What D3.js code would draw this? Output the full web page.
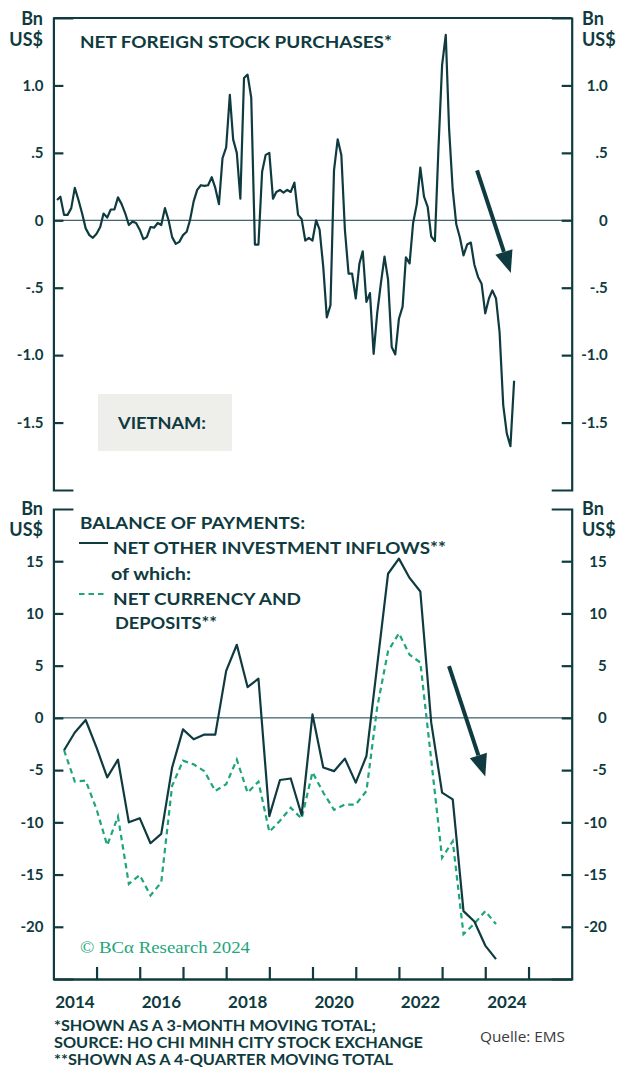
<!DOCTYPE html>
<html>
<head>
<meta charset="utf-8">
<script src="https://cdn.jsdelivr.net/npm/d3@7"></script>
<style>
  body { margin: 0; background: #fff; }
  svg { display: block; }
  text { font-family: Lato, "Open Sans", sans-serif; font-weight: 700; fill: #0f3b40; }
</style>
</head>
<body>
<svg id="chart" width="618" height="1070"></svg>
<script>
// net foreign stock purchases, bn US$, 3-month moving total, monthly from Feb 2014
var stockValues = [
  0.15, 0.175, 0.04, 0.04, 0.09, 0.24, 0.15, 0.05, -0.06, -0.11, -0.13, -0.10,
  -0.05, 0.05, 0.02, 0.08, 0.08, 0.17, 0.12, 0.05, -0.035, -0.01, -0.02, -0.07,
  -0.14, -0.125, -0.05, -0.055, -0.02, -0.035, 0.09, 0.0, -0.125, -0.175, -0.16, -0.11,
  -0.085, 0.0, 0.14, 0.225, 0.26, 0.255, 0.26, 0.32, 0.24, 0.12, 0.46, 0.54,
  0.93, 0.60, 0.50, 0.16, 1.055, 1.08, 0.91, -0.18, -0.18, 0.36, 0.485, 0.50,
  0.16, 0.21, 0.225, 0.205, 0.225, 0.21, 0.28, 0.04, 0.01, -0.15, -0.13, -0.15,
  0.0, -0.07, -0.345, -0.72, -0.63, 0.37, 0.60, 0.485, -0.07, -0.395, -0.395, -0.58,
  -0.32, -0.23, -0.605, -0.54, -0.99, -0.69, -0.47, -0.27, -0.44, -0.94, -0.995, -0.73,
  -0.64, -0.275, -0.32, -0.02, 0.12, 0.39, 0.175, 0.10, -0.12, -0.155, 0.53, 1.15,
  1.375, 0.68, 0.225, -0.03, -0.13, -0.26, -0.18, -0.165, -0.33, -0.42, -0.47, -0.69,
  -0.58, -0.52, -0.58, -0.83, -1.37, -1.58, -1.675, -1.19
];
var stockStart = new Date(2014, 1, 1);

// balance of payments, bn US$, 4-quarter moving total, quarterly from Q1 2014
var otherInvestment = [
  -3.1, -1.4, -0.2, -2.85, -5.7, -4.0, -10.0, -9.6, -12.0, -11.1,
  -4.75, -1.1, -2.05, -1.6, -1.6, 4.5, 7.0, 2.95, 3.75, -9.4,
  -5.95, -5.8, -9.3, 0.33, -4.75, -5.1, -3.9, -6.2, -3.65, 5.0,
  13.8, 15.25, 13.4, 12.1, -0.46, -7.15, -7.8, -18.5, -19.5, -21.8,
  -23.1
];
var currencyDeposits = [
  -3.1, -6.1, -6.0, -8.75, -12.2, -9.45, -15.9, -15.05, -17.0, -15.75,
  -6.5, -4.1, -4.45, -5.1, -7.0, -6.35, -4.0, -7.15, -6.1, -10.9,
  -9.85, -8.6, -9.65, -5.2, -7.15, -8.8, -8.3, -8.3, -7.0, 1.0,
  6.4, 8.1, 6.05, 5.3, -4.0, -13.4, -11.8, -20.7, -19.7, -18.5,
  -19.75
];
var bopStart = new Date(2014, 3, 1);

var stockTicks = [-1.5, -1.0, -0.5, 0, 0.5, 1.0];
var bopTicks = [-20, -15, -10, -5, 0, 5, 10, 15];
var yearLabels = [2014, 2016, 2018, 2020, 2022, 2024];

// arrow annotations as [year fraction, value]
var stockArrow = [[2023.81, 0.37], [2024.59, -0.39]];
var bopArrow = [[2023.16, 4.95], [2024.0, -5.6]];

var ink = "#0f3b40", green = "#1ea57c";
var left = 53.4, right = 571.7;
var topPanel = {top: 18, bottom: 490}, botPanel = {top: 509, bottom: 979};

var svg = d3.select("#chart");

var stockData = stockValues.map(function(v, i) {
  return {date: d3.timeMonth.offset(stockStart, i), value: v};
});
var bopData = otherInvestment.map(function(v, i) {
  return {date: d3.timeMonth.offset(bopStart, i * 3), other: v, currency: currencyDeposits[i]};
});

// set the ranges
var x = d3.scaleTime()
  .domain([new Date(2014, 0, 1), new Date(2026, 0, 1)])
  .range([left, right]);
var yTop = d3.scaleLinear().domain([-2, 1.5]).range([topPanel.bottom, topPanel.top]);
var yBot = d3.scaleLinear().domain([-25, 20]).range([botPanel.bottom, botPanel.top]);
var yearX = function(t) {
  var y0 = Math.floor(t);
  return x(new Date(y0, 0, 1)) + (t - y0) * (x(new Date(y0 + 1, 0, 1)) - x(new Date(y0, 0, 1)));
};

// plain hyphen minus, no leading zero: 1.0 .5 0 -.5 -1.0
var fmtStock = function(v) {
  if (v === 0) return "0";
  var s = Math.abs(v) < 1 ? String(Math.abs(v)).replace("0.", ".") : Math.abs(v).toFixed(1);
  return (v < 0 ? "-" : "") + s;
};
var fmtBop = function(v) { return (v < 0 ? "-" : "") + Math.abs(v); };

function styleAxis(g) {
  g.select(".domain").attr("stroke", ink).attr("stroke-width", 2.2);
  g.selectAll(".tick line").attr("stroke", ink).attr("stroke-width", 2.2);
  g.selectAll(".tick text")
    .attr("fill", ink)
    .style("font-family", "Lato, sans-serif")
    .style("font-weight", 700)
    .style("font-size", "15px");
}

// ---- top panel ----
svg.append("line")
  .attr("x1", left).attr("x2", right)
  .attr("y1", topPanel.top).attr("y2", topPanel.top)
  .attr("stroke", ink).attr("stroke-width", 2);

svg.append("line")
  .attr("x1", left).attr("x2", right)
  .attr("y1", yTop(0)).attr("y2", yTop(0))
  .attr("stroke", ink).attr("stroke-width", 1);

var gTopL = svg.append("g")
  .attr("transform", "translate(" + left + ",0)")
  .call(d3.axisLeft(yTop).tickValues(stockTicks).tickFormat(fmtStock)
    .tickSize(-10).tickSizeOuter(-20).tickPadding(10));
styleAxis(gTopL);

var gTopR = svg.append("g")
  .attr("transform", "translate(" + right + ",0)")
  .call(d3.axisRight(yTop).tickValues(stockTicks).tickFormat(fmtStock)
    .tickSize(-10).tickSizeOuter(-20));
styleAxis(gTopR);
gTopR.selectAll(".tick text").attr("x", 36).attr("text-anchor", "end");

svg.append("path")
  .datum(stockData)
  .attr("fill", "none")
  .attr("stroke", ink)
  .attr("stroke-width", 2.2)
  .attr("stroke-linejoin", "round")
  .attr("d", d3.line()
    .x(function(d) { return x(d.date); })
    .y(function(d) { return yTop(d.value); }));

// ---- bottom panel ----
svg.append("line")
  .attr("x1", left).attr("x2", right)
  .attr("y1", yBot(0)).attr("y2", yBot(0))
  .attr("stroke", ink).attr("stroke-width", 1);

var gBotL = svg.append("g")
  .attr("transform", "translate(" + left + ",0)")
  .call(d3.axisLeft(yBot).tickValues(bopTicks).tickFormat(fmtBop)
    .tickSize(-10).tickSizeOuter(-20).tickPadding(10));
styleAxis(gBotL);

var gBotR = svg.append("g")
  .attr("transform", "translate(" + right + ",0)")
  .call(d3.axisRight(yBot).tickValues(bopTicks).tickFormat(fmtBop)
    .tickSize(-10).tickSizeOuter(-20));
styleAxis(gBotR);
gBotR.selectAll(".tick text").attr("x", 35).attr("text-anchor", "end");

// year ticks point up from the bottom axis
var gX = svg.append("g")
  .attr("transform", "translate(0," + botPanel.bottom + ")")
  .call(d3.axisBottom(x).ticks(d3.timeYear.every(1)).tickFormat("")
    .tickSize(-12).tickSizeOuter(0));
styleAxis(gX);
gX.select(".domain").attr("stroke-width", 2.6);
gX.selectAll(".tick").filter(function(d) { return d.getFullYear() === 2014 || d.getFullYear() === 2026; }).remove();

svg.append("g").selectAll("text")
  .data(yearLabels)
  .enter().append("text")
  .attr("x", function(d) { return yearX(d + 0.5); })
  .attr("y", 1008)
  .attr("text-anchor", "middle")
  .style("font-size", "17px")
  .text(function(d) { return d; });

svg.append("path")
  .datum(bopData)
  .attr("fill", "none")
  .attr("stroke", green)
  .attr("stroke-width", 2.2)
  .attr("stroke-dasharray", "5.5,4")
  .attr("d", d3.line()
    .x(function(d) { return x(d.date); })
    .y(function(d) { return yBot(d.currency); }));

svg.append("path")
  .datum(bopData)
  .attr("fill", "none")
  .attr("stroke", ink)
  .attr("stroke-width", 2.2)
  .attr("stroke-linejoin", "round")
  .attr("d", d3.line()
    .x(function(d) { return x(d.date); })
    .y(function(d) { return yBot(d.other); }));

// ---- arrows ----
function drawArrow(pts, yScale) {
  var x0 = yearX(pts[0][0]), y0 = yScale(pts[0][1]);
  var x1 = yearX(pts[1][0]), y1 = yScale(pts[1][1]);
  var ang = Math.atan2(y1 - y0, x1 - x0);
  var headLen = 22, headW = 9;
  var bx = x1 - headLen * Math.cos(ang), by = y1 - headLen * Math.sin(ang);
  svg.append("line")
    .attr("x1", x0).attr("y1", y0).attr("x2", bx).attr("y2", by)
    .attr("stroke", ink).attr("stroke-width", 4);
  svg.append("path")
    .attr("fill", ink)
    .attr("d", "M" + x1 + "," + y1 +
      "L" + (bx + headW * Math.sin(ang)) + "," + (by - headW * Math.cos(ang)) +
      "L" + (bx - headW * Math.sin(ang)) + "," + (by + headW * Math.cos(ang)) + "Z");
}
drawArrow(stockArrow, yTop);
drawArrow(bopArrow, yBot);

// ---- unit labels ----
[[topPanel.top, 25, 46], [botPanel.top, 515, 536]].forEach(function(p) {
  [["end", 43], ["start", 582]].forEach(function(s) {
    svg.append("text").attr("x", s[1]).attr("y", p[1]).attr("text-anchor", s[0])
      .style("font-size", "18px").text("Bn");
    svg.append("text").attr("x", s[1]).attr("y", p[2]).attr("text-anchor", s[0])
      .style("font-size", "18px").text("US$");
  });
});

// ---- titles and legend ----
function label(str, xx, yy, size, width) {
  var t = svg.append("text").attr("x", xx).attr("y", yy)
    .style("font-size", size + "px").text(str);
  if (width) t.attr("textLength", width).attr("lengthAdjust", "spacingAndGlyphs");
  return t;
}

label("NET FOREIGN STOCK PURCHASES*", 80, 48, 17, 312);

svg.append("rect")
  .attr("x", 98).attr("y", 394).attr("width", 134).attr("height", 57)
  .attr("fill", "#eeeeea");
label("VIETNAM:", 118, 429, 17, 88);

label("BALANCE OF PAYMENTS:", 80, 529, 17, 225);
svg.append("line")
  .attr("x1", 79).attr("x2", 108).attr("y1", 543).attr("y2", 543)
  .attr("stroke", ink).attr("stroke-width", 2);
label("NET OTHER INVESTMENT INFLOWS**", 113, 554, 17, 333);
label("of which:", 111, 580, 17, 80);
svg.append("line")
  .attr("x1", 79).attr("x2", 104).attr("y1", 594).attr("y2", 594)
  .attr("stroke", green).attr("stroke-width", 2).attr("stroke-dasharray", "5.5,4");
label("NET CURRENCY AND", 113, 605, 17, 188);
label("DEPOSITS**", 115, 629, 17, 102);

svg.append("text")
  .attr("x", 80).attr("y", 953)
  .attr("textLength", 170).attr("lengthAdjust", "spacingAndGlyphs")
  .style("font-family", "'Liberation Serif', serif")
  .style("font-weight", 400)
  .style("font-size", "17px")
  .style("fill", green)
  .text("© BCα Research 2024");

// ---- footnotes ----
label("*SHOWN AS A 3-MONTH MOVING TOTAL;", 54, 1031, 15, 322);
label("SOURCE: HO CHI MINH CITY STOCK EXCHANGE", 54, 1048, 15, 369);
label("**SHOWN AS A 4-QUARTER MOVING TOTAL", 54, 1065, 15, 339);

svg.append("text")
  .attr("x", 480).attr("y", 1042)
  .attr("textLength", 85).attr("lengthAdjust", "spacingAndGlyphs")
  .style("font-family", "'Open Sans', sans-serif")
  .style("font-weight", 400)
  .style("font-size", "15px")
  .style("fill", "#3a3a3a")
  .text("Quelle: EMS");
</script>
</body>
</html>
